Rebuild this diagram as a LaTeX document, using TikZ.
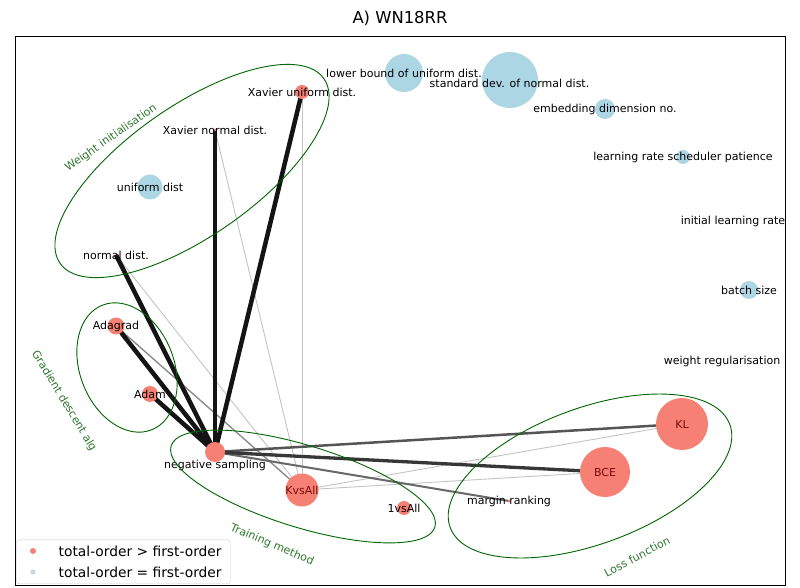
\documentclass[tikz,border=0pt]{standalone}
\usepackage{fontspec}
\setmainfont{DejaVu Sans}
\pgfdeclarelayer{bg}
\pgfsetlayers{bg,main}
\definecolor{nodered}{RGB}{247,128,116}
\definecolor{nodeblue}{RGB}{173,214,228}
\definecolor{grp}{RGB}{0,100,0}
\definecolor{grptext}{RGB}{45,120,45}
\definecolor{lbldark}{RGB}{120,12,12}
\definecolor{e1}{RGB}{20,20,20}
\definecolor{e2}{RGB}{55,55,55}
\definecolor{e3}{RGB}{85,85,85}
\definecolor{e4}{RGB}{105,105,105}
\definecolor{e5}{RGB}{140,140,140}
\definecolor{e6}{RGB}{195,195,195}
\begin{document}
\begin{tikzpicture}[x=1pt,y=1pt,
  rn/.style={circle,fill=nodered,draw=none,inner sep=0pt,minimum size=#1},
  bn/.style={circle,fill=nodeblue,draw=none,inner sep=0pt,minimum size=#1},
  lab/.style={font=\fontsize{11}{13}\selectfont,inner sep=0pt,text=black},
  glab/.style={font=\fontsize{11}{13}\selectfont,inner sep=0pt,text=grptext},
  grpell/.style={draw=grp,line width=0.9pt},
  heavy/.style={draw=e1,line width=4.5pt},
  wbce/.style={draw=e2,line width=3.3pt},
  wkl/.style={draw=e3,line width=2.5pt},
  wmr/.style={draw=e4,line width=2pt},
  wmid/.style={draw=e5,line width=1.4pt},
  wlight/.style={draw=e6,line width=0.9pt}]
\useasboundingbox (0,0) rectangle (800,587);

% title and frame
\node[font=\fontsize{16.4}{20}\selectfont,inner sep=0pt] (title) at (400,569) {A) WN18RR};
\draw[line width=1pt] (15,2) rectangle (785,550);

% nodes
\node[rn=14,label={[lab]center:Xavier uniform dist.}] (xu) at (302,495) {};
\node[rn=3,label={[lab]center:Xavier normal dist.}] (xn) at (215,457) {};
\node[bn=25,label={[lab]center:uniform dist}] (ud) at (150,400) {};
\node[rn=3,label={[lab]center:normal dist.}] (nd) at (116,332) {};
\node[bn=38,label={[lab]center:lower bound of uniform dist.}] (lb) at (404,514) {};
\node[bn=56] (sd) at (510,507) {};
\node[lab] (sdl) at (509.5,504) {standard dev. of normal dist.};
\node[bn=20,label={[lab]center:embedding dimension no.}] (ed) at (605,478) {};
\node[bn=14,label={[lab]center:learning rate scheduler patience}] (lrs) at (683,430) {};
\node[lab] (ilr) at (733,366) {initial learning rate};
\node[bn=18,label={[lab]center:batch size}] (bs) at (749,297) {};
\node[lab] (wr) at (722,226) {weight regularisation};
\node[rn=17,label={[lab]center:Adagrad}] (adagrad) at (116,261) {};
\node[rn=16,label={[lab]center:Adam}] (adam) at (150,193) {};
\node[rn=20] (ns) at (215,135) {};
\node[lab] (nsl) at (215,122) {negative sampling};
\node[rn=33,label={[lab,text=lbldark]center:KvsAll}] (kvs) at (302,97) {};
\node[rn=14,label={[lab]center:1vsAll}] (one) at (404,79) {};
\node[rn=3,label={[lab]center:margin ranking}] (mr) at (509,86) {};
\node[rn=50,label={[lab,text=lbldark]center:BCE}] (bce) at (605,115) {};
\node[rn=52,label={[lab,text=lbldark]center:KL}] (kl) at (682,163) {};

% edges
\begin{pgfonlayer}{bg}
\draw[wlight] (xu.center) -- (kvs.center);
\draw[wlight] (xn.center) -- (kvs.center);
\draw[wlight] (nd.center) -- (kvs.center);
\draw[wlight] (kvs.center) -- (kl.center);
\draw[wlight] (kvs.center) -- (bce.center);
\draw[wmid] (adagrad.center) -- (kvs.center);
\draw[wmr] (ns.center) -- (mr.center);
\draw[wkl] (ns.center) -- (kl.center);
\draw[wbce] (ns.center) -- (bce.center);
\draw[heavy] (ns.center) -- (xu.center);
\draw[heavy] (ns.center) -- (xn.center);
\draw[heavy] (ns.center) -- (nd.center);
\draw[heavy] (ns.center) -- (adagrad.center);
\draw[heavy] (ns.center) -- (adam.center);
\end{pgfonlayer}

% group ellipses
\draw[grpell,rotate around={35:(192,416)}] (192,416) ellipse [x radius=161,y radius=65];
\draw[grpell,rotate around={-68.5:(127,219.5)}] (127,219.5) ellipse [x radius=67,y radius=47];
\draw[grpell,rotate around={-17.1:(303,100.5)}] (303,100.5) ellipse [x radius=138,y radius=41];
\draw[grpell,rotate around={20.2:(590,111)}] (590,111) ellipse [x radius=149,y radius=68];

% group labels
\node[glab,rotate=35] (gwi) at (111,449) {Weight initialisation};
\node[glab,rotate=-59] (ggd) at (64,186) {Gradient descent alg};
\node[glab,rotate=-23] (gtm) at (272,42) {Training method};
\node[glab,rotate=28] (glf) at (637,30.5) {Loss function};

% legend
\node[draw=black!20,rounded corners=3pt,fill=white,fill opacity=0.85,text opacity=1,
      minimum width=214,minimum height=44,inner sep=0pt,anchor=south west] (legend) at (16,3) {};
\node[circle,fill=nodered,inner sep=0pt,minimum size=6] (m1) at (33,36) {};
\node[circle,fill=nodeblue!70!gray,opacity=0.6,inner sep=0pt,minimum size=5] (m2) at (33,15) {};
\node[anchor=west,inner sep=0pt,font=\fontsize{13.8}{16}\selectfont] (l1) at (58.5,36) {total-order > first-order};
\node[anchor=west,inner sep=0pt,font=\fontsize{13.8}{16}\selectfont] (l2) at (58.5,15) {total-order = first-order};
\end{tikzpicture}
\end{document}
